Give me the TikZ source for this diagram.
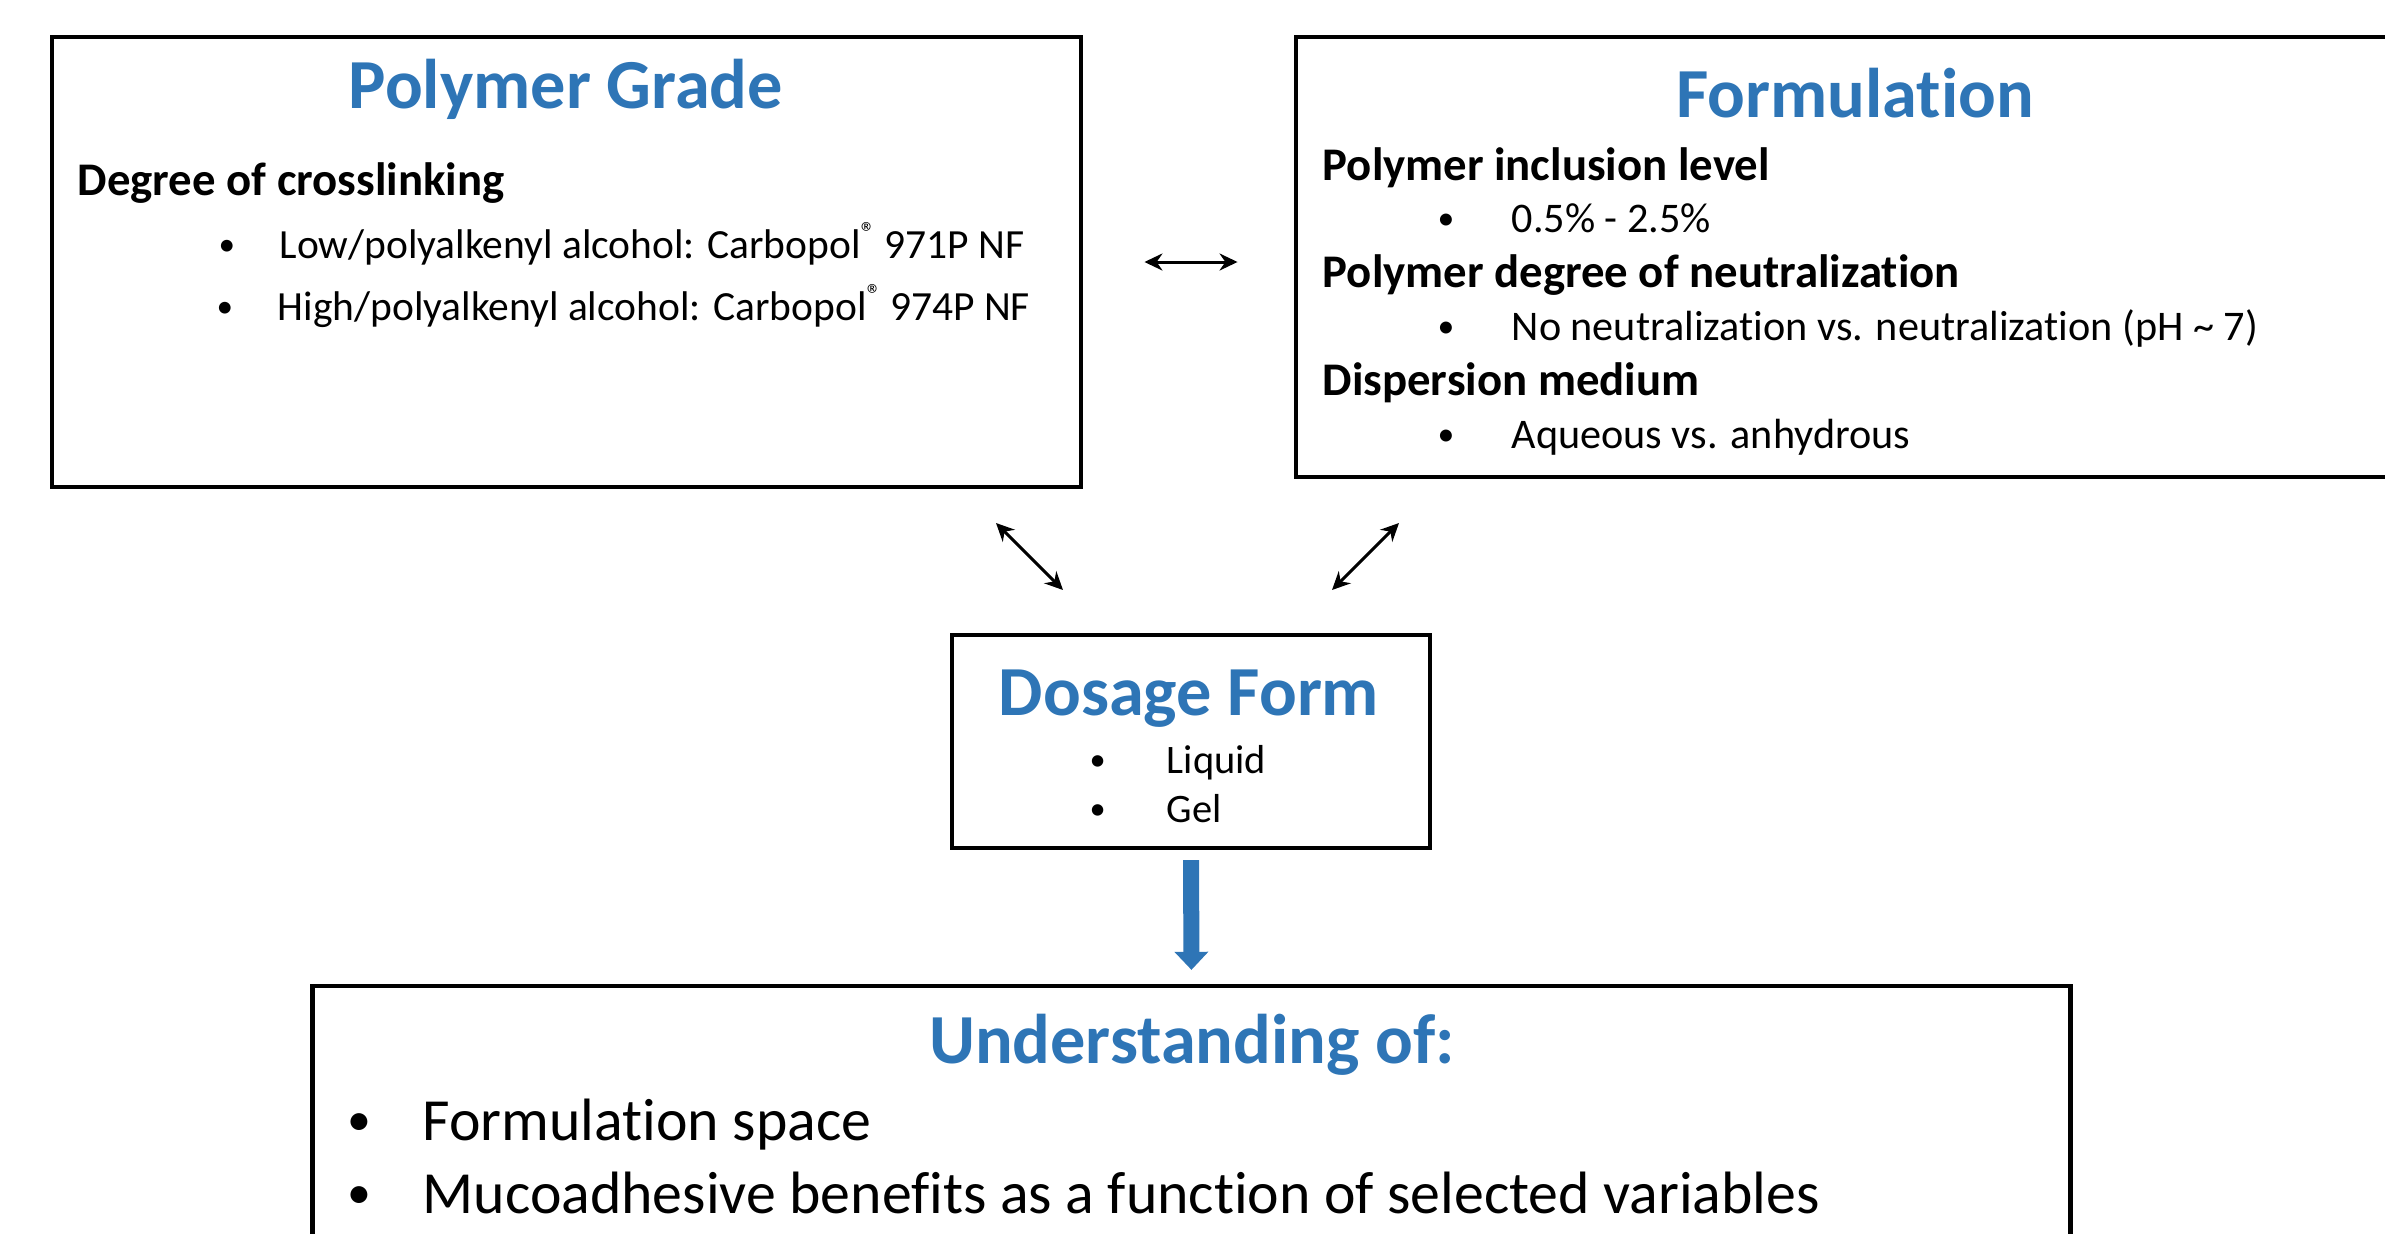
\documentclass[tikz,border=0pt]{standalone}
\usepackage{fontspec}
\setmainfont{Carlito}[Ligatures=NoCommon]
\usepackage{tikz}
\usetikzlibrary{arrows.meta}
\usetikzlibrary{positioning}
\usepackage{xcolor}
\definecolor{titleblue}{RGB}{46,117,182}
\newcommand{\itembullet}[1]{\makebox[#1][l]{\raisebox{0.07em}{\scalebox{0.8}{\textbullet}}}}

\begin{document}
\begin{tikzpicture}[x=0.01cm, y=-0.01cm,
	box/.style={draw, line width=1.2pt, inner sep=0pt},
	boxtitle/.style={anchor=base, inner sep=0pt, text=titleblue, font=\bfseries\fontsize{20}{24}\selectfont},
	head/.style={anchor=base west, inner sep=0pt, font=\bfseries\fontsize{13.3}{16}\selectfont},
	item/.style={anchor=base west, inner sep=0pt, font=\fontsize{12}{14}\selectfont},
	link/.style={{Stealth[length=0.18cm, width=0.17cm]}-{Stealth[length=0.18cm, width=0.17cm]}, line width=0.85pt}]

		\useasboundingbox (0,0) rectangle (2385,1233);

		\node [box, minimum width=10.29cm, minimum height=4.5cm] (pg) at (566.5,262) {};
		\node [boxtitle] (pgtitle) at (566,108) {Polymer Grade};
		\node [head] (pghead) at (77,195) {Degree of crosslinking};
		\node [item, font=\fontsize{11.8}{14}\selectfont] (pglow) at (218,258) {\itembullet{0.61cm}Low/polyalkenyl alcohol: Carbopol\textsuperscript{\textregistered}\,971P NF};
		\node [item, font=\fontsize{11.8}{14}\selectfont] (pghigh) at (216,320) {\itembullet{0.61cm}High/polyalkenyl alcohol: Carbopol\textsuperscript{\textregistered}\,974P NF};

		\node [box, minimum width=11.04cm, minimum height=4.4cm] (form) at (1848,257) {};
		\node [boxtitle] (formtitle) at (1855,117) {Formulation};
		\node [head] (formlevelhead) at (1322,180) {Polymer inclusion level};
		\node [item] (formlevel) at (1437,232) {\itembullet{0.74cm}0.5\% - 2.5\%};
		\node [head] (formneutralhead) at (1322,287) {Polymer degree of neutralization};
		\node [item] (formneutral) at (1437,340) {\itembullet{0.74cm}No neutralization vs. neutralization (pH \textasciitilde{} 7)};
		\node [head] (formmediumhead) at (1322,395) {Dispersion medium};
		\node [item] (formmedium) at (1437,448) {\itembullet{0.74cm}Aqueous vs. anhydrous};

		\node [box, minimum width=4.78cm, minimum height=2.13cm] (dose) at (1191,741.5) {};
		\node [boxtitle] (dosetitle) at (1189,715) {Dosage Form};
		\node [item, font=\fontsize{11.5}{14}\selectfont] (doseliquid) at (1089,773) {\itembullet{0.77cm}Liquid};
		\node [item, font=\fontsize{11.5}{14}\selectfont] (dosegel) at (1089,822) {\itembullet{0.77cm}Gel};

		\node [box, minimum width=17.57cm, minimum height=2.9cm] (under) at (1191.5,1131) {};
		\node [boxtitle] (undertitle) at (1192,1063) {Understanding of:};
		\node [item, font=\fontsize{17}{20}\selectfont] (underspace) at (347,1140) {\itembullet{0.75cm}Formulation space};
		\node [item, font=\fontsize{17}{20}\selectfont] (underbenefit) at (347,1213) {\itembullet{0.75cm}Mucoadhesive benefits as a function of selected variables};

		\coordinate (pgdown) at (996,523);
		\coordinate (doseleft) at (1063,590);
		\coordinate (formdown) at (1399,523);
		\coordinate (doseright) at (1332,590);

		\draw [link, shorten <=0.61cm, shorten >=0.56cm] (pg.east) -- (pg.east -| form.west);
		\draw [link] (pgdown) -- (doseleft);
		\draw [link] (formdown) -- (doseright);
		\draw [titleblue, line width=0.16cm, -{Triangle[width=0.34cm, length=0.18cm, line width=0pt]}, shorten <=0.1cm, shorten >=0.14cm] (dose.south) -- (under.north);

\end{tikzpicture}
\end{document}
